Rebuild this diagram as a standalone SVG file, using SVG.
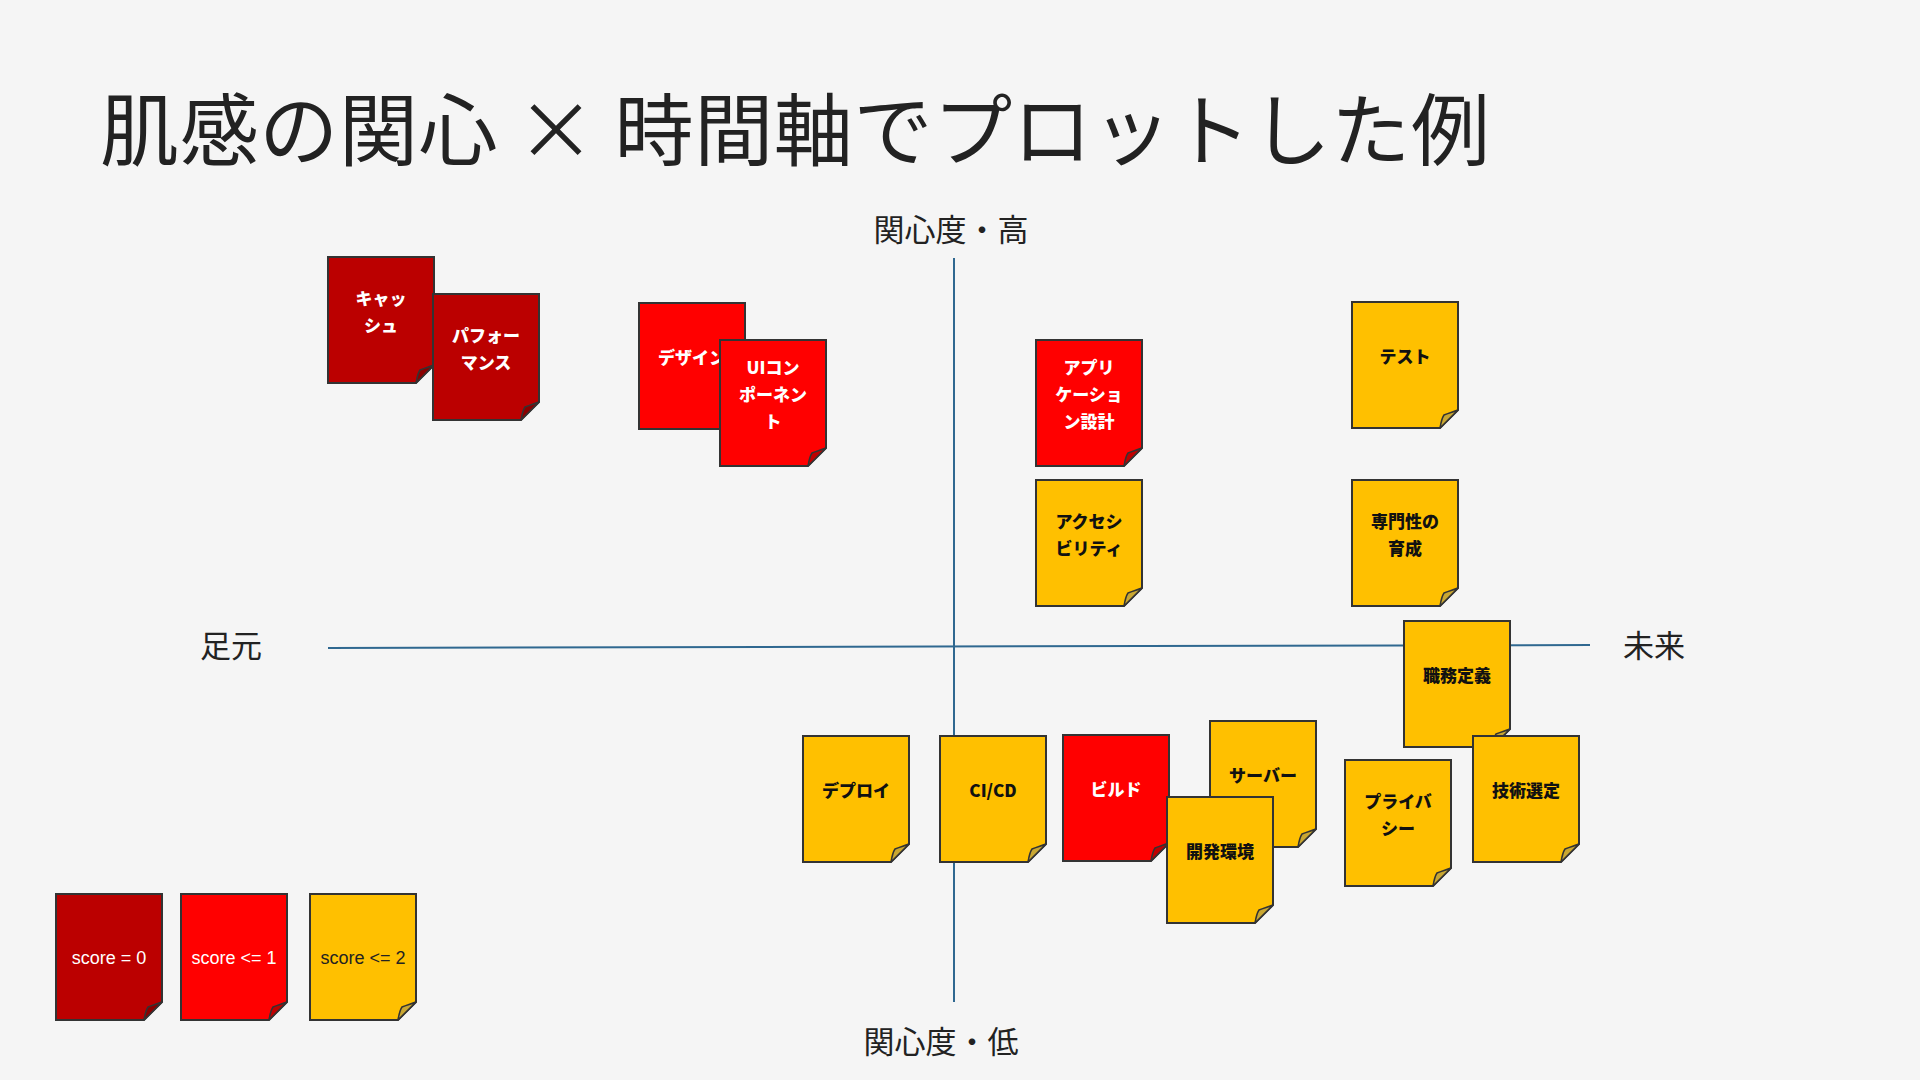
<svg xmlns="http://www.w3.org/2000/svg" xmlns:xlink="http://www.w3.org/1999/xlink" width="1920" height="1080" viewBox="0 0 1920 1080">
<style>
.title{font-family:"Noto Sans CJK JP","Noto Sans",sans-serif;font-size:79px;fill:#222;}
.axis-label{font-family:"Noto Sans CJK JP","Noto Sans",sans-serif;font-size:31px;fill:#222;}
.axis{stroke:#2f6890;stroke-width:2;fill:none;}
.body{stroke:#333;stroke-width:2;stroke-linejoin:miter;}
.fold{stroke:#333;stroke-width:1.5;stroke-linejoin:round;}
.c0 .body{fill:#BB0000;} .c0 .fold{fill:#8A0000;}
.c1 .body{fill:#FF0000;} .c1 .fold{fill:#C00000;}
.c2 .body{fill:#FFC000;} .c2 .fold{fill:#C9A732;}
.nt{font-family:"Noto Sans CJK JP","Noto Sans",sans-serif;font-size:17px;font-weight:900;text-anchor:middle;}
.c0 .nt,.c1 .nt{fill:#fff;} .c2 .nt{fill:#111;}
.lt{font-family:"Liberation Sans",Arial,sans-serif;font-size:18px;text-anchor:middle;}
.c0 .lt,.c1 .lt{fill:#fff;} .c2 .lt{fill:#222;}
</style>
<defs>
<path id="nb" d="M0,0 H106 V108 L88,126 H0 Z"/>
<path id="nf" d="M88,126 C89,120 90,116 92,113 C97,111 101,110 106,108 Z"/>
</defs>
<rect x="0" y="0" width="1920" height="1080" fill="#f5f5f5"/>
<text class="title" x="100" y="160" textLength="1390" lengthAdjust="spacing">肌感の関心 × 時間軸でプロットした例</text>
<g id="axis-labels">
<text class="axis-label" x="951" y="241" text-anchor="middle">関心度・高</text>
<text class="axis-label" x="941" y="1053" text-anchor="middle">関心度・低</text>
<text class="axis-label" x="231" y="657" text-anchor="middle">足元</text>
<text class="axis-label" x="1654" y="657" text-anchor="middle">未来</text>
</g>
<g id="connectors">
<line class="axis" x1="328" y1="648" x2="1590" y2="645"/>
<line class="axis" x1="954" y1="258" x2="954" y2="1002"/>
</g>
<g id="note-cache" class="c0" transform="translate(328,257)"><use href="#nb" class="body"/><use href="#nf" class="fold"/><text class="nt"><tspan x="53" y="47.5">キャッ</tspan><tspan x="53" y="74.5">シュ</tspan></text></g>
<g id="note-performance" class="c0" transform="translate(433,294)"><use href="#nb" class="body"/><use href="#nf" class="fold"/><text class="nt"><tspan x="53" y="47.5">パフォー</tspan><tspan x="53" y="74.5">マンス</tspan></text></g>
<g id="note-design" class="c1" transform="translate(639,303)"><use href="#nb" class="body"/><use href="#nf" class="fold"/><text class="nt" x="53" y="61">デザイン</text></g>
<g id="note-ui" class="c1" transform="translate(720,340)"><use href="#nb" class="body"/><use href="#nf" class="fold"/><text class="nt"><tspan x="53" y="34">UIコン</tspan><tspan x="53" y="61">ポーネン</tspan><tspan x="53" y="88">ト</tspan></text></g>
<g id="note-app" class="c1" transform="translate(1036,340)"><use href="#nb" class="body"/><use href="#nf" class="fold"/><text class="nt"><tspan x="53" y="34">アプリ</tspan><tspan x="53" y="61">ケーショ</tspan><tspan x="53" y="88">ン設計</tspan></text></g>
<g id="note-test" class="c2" transform="translate(1352,302)"><use href="#nb" class="body"/><use href="#nf" class="fold"/><text class="nt" x="53" y="61">テスト</text></g>
<g id="note-a11y" class="c2" transform="translate(1036,480)"><use href="#nb" class="body"/><use href="#nf" class="fold"/><text class="nt"><tspan x="53" y="47.5">アクセシ</tspan><tspan x="53" y="74.5">ビリティ</tspan></text></g>
<g id="note-expertise" class="c2" transform="translate(1352,480)"><use href="#nb" class="body"/><use href="#nf" class="fold"/><text class="nt"><tspan x="53" y="47.5">専門性の</tspan><tspan x="53" y="74.5">育成</tspan></text></g>
<g id="note-job" class="c2" transform="translate(1404,621)"><use href="#nb" class="body"/><use href="#nf" class="fold"/><text class="nt" x="53" y="61">職務定義</text></g>
<g id="note-tech" class="c2" transform="translate(1473,736)"><use href="#nb" class="body"/><use href="#nf" class="fold"/><text class="nt" x="53" y="61">技術選定</text></g>
<g id="note-privacy" class="c2" transform="translate(1345,760)"><use href="#nb" class="body"/><use href="#nf" class="fold"/><text class="nt"><tspan x="53" y="47.5">プライバ</tspan><tspan x="53" y="74.5">シー</tspan></text></g>
<g id="note-deploy" class="c2" transform="translate(803,736)"><use href="#nb" class="body"/><use href="#nf" class="fold"/><text class="nt" x="53" y="61">デプロイ</text></g>
<g id="note-cicd" class="c2" transform="translate(940,736)"><use href="#nb" class="body"/><use href="#nf" class="fold"/><text class="nt" x="53" y="61">CI/CD</text></g>
<g id="note-build" class="c1" transform="translate(1063,735)"><use href="#nb" class="body"/><use href="#nf" class="fold"/><text class="nt" x="53" y="61">ビルド</text></g>
<g id="note-server" class="c2" transform="translate(1210,721)"><use href="#nb" class="body"/><use href="#nf" class="fold"/><text class="nt" x="53" y="61">サーバー</text></g>
<g id="note-devenv" class="c2" transform="translate(1167,797)"><use href="#nb" class="body"/><use href="#nf" class="fold"/><text class="nt" x="53" y="61">開発環境</text></g>
<g id="legend-0" class="c0" transform="translate(56,894)"><use href="#nb" class="body"/><use href="#nf" class="fold"/><text class="lt" x="53" y="70">score = 0</text></g>
<g id="legend-1" class="c1" transform="translate(181,894)"><use href="#nb" class="body"/><use href="#nf" class="fold"/><text class="lt" x="53" y="70">score &lt;= 1</text></g>
<g id="legend-2" class="c2" transform="translate(310,894)"><use href="#nb" class="body"/><use href="#nf" class="fold"/><text class="lt" x="53" y="70">score &lt;= 2</text></g>
</svg>
